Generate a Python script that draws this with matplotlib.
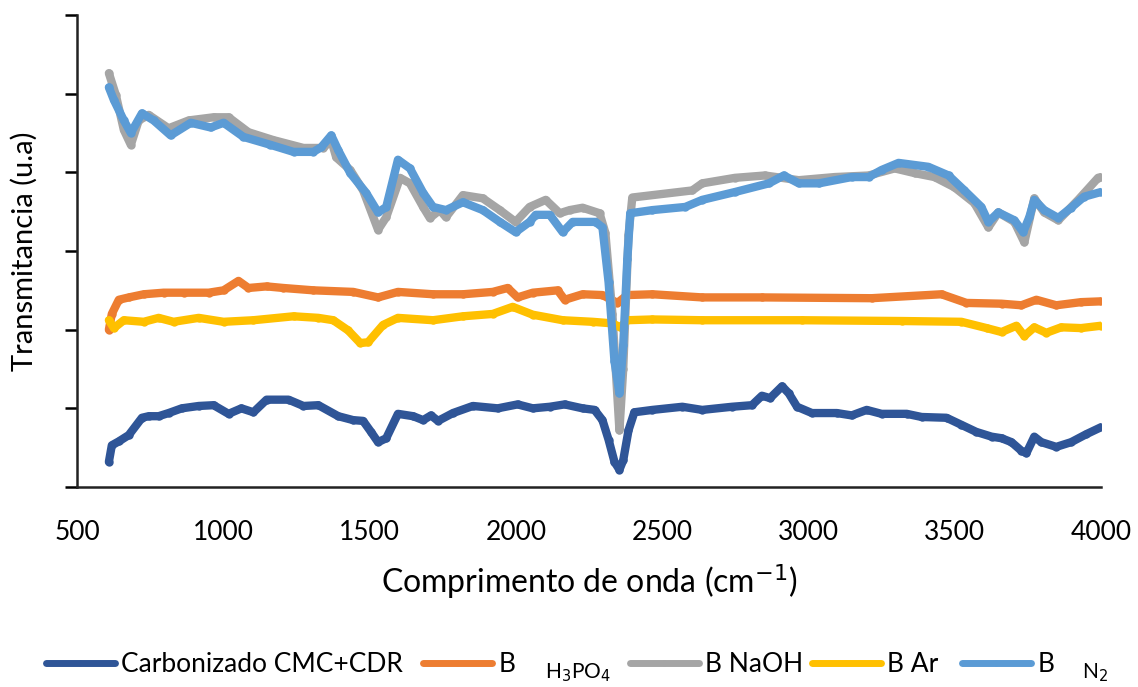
import matplotlib.pyplot as plt

# wavenumber (cm-1) / transmittance (arbitrary units, axis 0..6)
wn_cmc = [609, 619, 643, 677, 722, 745, 779, 813, 858, 916, 967, 1018, 1062, 1103, 1148,
          1223, 1274, 1325, 1393, 1444, 1478, 1505, 1529, 1557, 1597, 1649, 1683, 1710,
          1734, 1785, 1853, 1938, 2006, 2058, 2116, 2167, 2228, 2269, 2296, 2317, 2337,
          2354, 2367, 2385, 2405, 2467, 2569, 2637, 2739, 2807, 2841, 2869, 2910, 2933,
          2961, 3012, 3097, 3148, 3199, 3250, 3336, 3387, 3472, 3523, 3574, 3626, 3660,
          3694, 3728, 3745, 3772, 3796, 3847, 3898, 3949, 4000]
t_cmc = [0.32, 0.53, 0.58, 0.66, 0.88, 0.90, 0.90, 0.94, 1.00, 1.03, 1.04, 0.93, 1.00, 0.95, 1.11,
         1.11, 1.03, 1.04, 0.90, 0.85, 0.84, 0.70, 0.57, 0.62, 0.93, 0.90, 0.85, 0.91,
         0.84, 0.94, 1.03, 1.00, 1.05, 1.00, 1.02, 1.05, 1.00, 0.98, 0.85, 0.60, 0.32,
         0.22, 0.34, 0.72, 0.95, 0.98, 1.02, 0.98, 1.02, 1.04, 1.16, 1.13, 1.28, 1.19,
         1.02, 0.94, 0.94, 0.91, 0.98, 0.93, 0.93, 0.89, 0.88, 0.79, 0.70, 0.64, 0.62,
         0.57, 0.46, 0.43, 0.64, 0.57, 0.51, 0.57, 0.67, 0.76]

wn_h3po4 = [609, 619, 643, 677, 728, 796, 865, 950, 1001, 1052, 1086, 1148, 1205, 1308,
            1444, 1529, 1597, 1717, 1819, 1921, 1972, 2006, 2058, 2143, 2167, 2228, 2296,
            2347, 2381, 2467, 2637, 2841, 3216, 3455, 3540, 3660, 3728, 3779, 3847, 3932, 4000]
t_h3po4 = [2.00, 2.20, 2.38, 2.41, 2.45, 2.47, 2.47, 2.47, 2.50, 2.62, 2.53, 2.55, 2.53, 2.50,
           2.48, 2.41, 2.48, 2.45, 2.45, 2.48, 2.53, 2.41, 2.47, 2.50, 2.38, 2.45, 2.44,
           2.34, 2.44, 2.45, 2.41, 2.41, 2.40, 2.45, 2.34, 2.33, 2.31, 2.38, 2.31, 2.35, 2.36]

wn_naoh = [609, 633, 660, 684, 711, 745, 813, 882, 967, 1018, 1086, 1171, 1274, 1342, 1369,
           1386, 1434, 1478, 1529, 1557, 1604, 1638, 1683, 1706, 1740, 1761, 1819, 1887,
           1945, 1999, 2047, 2102, 2150, 2184, 2228, 2286, 2306, 2330, 2354, 2367, 2385,
           2398, 2603, 2637, 2749, 2851, 2967, 3090, 3206, 3295, 3363, 3431, 3499, 3567,
           3615, 3649, 3704, 3738, 3772, 3806, 3854, 3922, 3990, 4000]
t_naoh = [5.26, 4.98, 4.54, 4.35, 4.66, 4.73, 4.56, 4.66, 4.70, 4.70, 4.51, 4.41, 4.31, 4.31, 4.41,
          4.19, 4.03, 3.77, 3.27, 3.43, 3.93, 3.86, 3.56, 3.42, 3.52, 3.43, 3.71, 3.67,
          3.52, 3.37, 3.56, 3.65, 3.48, 3.52, 3.55, 3.48, 3.23, 2.20, 0.72, 1.50, 3.20,
          3.68, 3.77, 3.86, 3.93, 3.96, 3.90, 3.94, 3.96, 4.05, 3.99, 3.94, 3.81, 3.61,
          3.30, 3.49, 3.37, 3.11, 3.67, 3.49, 3.39, 3.65, 3.93, 3.94]

wn_ar = [609, 626, 660, 728, 779, 830, 916, 1001, 1103, 1240, 1325, 1376, 1427, 1468, 1495,
         1546, 1597, 1717, 1819, 1921, 1989, 2058, 2160, 2262, 2330, 2357, 2381, 2467,
         2637, 2978, 3319, 3523, 3609, 3660, 3711, 3738, 3772, 3813, 3864, 3932, 4000]
t_ar = [2.12, 2.02, 2.12, 2.10, 2.15, 2.10, 2.15, 2.10, 2.12, 2.17, 2.15, 2.12, 1.99, 1.83, 1.84,
        2.06, 2.15, 2.12, 2.17, 2.20, 2.29, 2.19, 2.12, 2.10, 2.08, 2.03, 2.12, 2.13,
        2.12, 2.12, 2.11, 2.10, 2.02, 1.97, 2.05, 1.92, 2.03, 1.96, 2.03, 2.02, 2.05]

wn_n2 = [609, 626, 660, 684, 722, 762, 820, 889, 957, 1001, 1069, 1161, 1240, 1308, 1335,
         1369, 1393, 1434, 1488, 1529, 1557, 1597, 1638, 1683, 1717, 1761, 1819, 1887,
         1945, 1999, 2047, 2068, 2116, 2160, 2194, 2272, 2296, 2317, 2337, 2354, 2367,
         2381, 2391, 2467, 2579, 2637, 2749, 2865, 2916, 2967, 3036, 3148, 3206, 3250,
         3308, 3410, 3479, 3533, 3591, 3615, 3649, 3704, 3734, 3755, 3772, 3806, 3854,
         3898, 3942, 4000]
t_n2 = [5.08, 4.92, 4.66, 4.50, 4.75, 4.66, 4.47, 4.63, 4.57, 4.63, 4.45, 4.35, 4.26, 4.26, 4.32,
        4.47, 4.28, 3.99, 3.74, 3.49, 3.56, 4.16, 4.05, 3.74, 3.56, 3.52, 3.62, 3.52,
        3.37, 3.24, 3.37, 3.46, 3.46, 3.24, 3.37, 3.37, 3.30, 2.60, 1.60, 1.19, 1.80,
        2.90, 3.48, 3.52, 3.56, 3.65, 3.75, 3.86, 3.96, 3.86, 3.86, 3.94, 3.94, 4.03,
        4.12, 4.07, 3.96, 3.77, 3.56, 3.37, 3.49, 3.39, 3.24, 3.43, 3.65, 3.52, 3.42,
        3.55, 3.69, 3.75]

series = [
    (wn_cmc, t_cmc, '#2F5597', 'Carbonizado CMC+CDR'),
    (wn_h3po4, t_h3po4, '#ED7D31', 'B'),
    (wn_naoh, t_naoh, '#A5A5A5', 'B NaOH'),
    (wn_ar, t_ar, '#FFC000', 'B Ar'),
    (wn_n2, t_n2, '#5B9BD5', 'B'),
]
# left edge of each legend entry (pixels in the reference)
legend_x = [46, 423, 630, 812, 962]

plt.rcParams['font.family'] = ['Lato', 'DejaVu Sans']

fig = plt.figure(figsize=(11.38, 6.87), dpi=100)
ax = fig.add_axes([77 / 1138, 1 - 487 / 687, (1101 - 77) / 1138, (487 - 15) / 687])

lines = []
for wn, t, color, label in series:
    ln, = ax.plot(wn, t, color=color, lw=6, marker='o', ms=5, label=label,
                  solid_joinstyle='round', solid_capstyle='round')
    lines.append(ln)

ax.set_xlim(500, 4000)
ax.set_ylim(0, 6)
ax.set_xticks(range(500, 4001, 500))
ax.set_yticks(range(0, 7))
ax.set_yticklabels([])
ax.tick_params(axis='x', length=0, labelsize=19, pad=24)
ax.tick_params(axis='y', direction='out', length=9, width=1.8)
for side in ['top', 'right']:
    ax.spines[side].set_visible(False)
for side in ['left', 'bottom']:
    ax.spines[side].set_linewidth(1.8)
    ax.spines[side].set_color('#222222')

ax.set_xlabel('Comprimento de onda (cm$^{-1}$)', fontsize=23, labelpad=12)
ax.set_ylabel('Transmitancia (u.a)', fontsize=21)
ax.yaxis.set_label_coords(-0.038, 0.50)

# one legend per entry so each sits where the reference has it
for ln, x in zip(lines, legend_x):
    leg = fig.legend(handles=[ln], loc='center left',
                     bbox_to_anchor=(x / 1138, 1 - 665 / 687),
                     frameon=False, fontsize=19, handlelength=2.6, handletextpad=0.25,
                     borderpad=0, borderaxespad=0, numpoints=1, markerscale=0.6)
    leg.get_lines()[0].set_linewidth(5)

fig.text(545 / 1138, 1 - 673 / 687, 'H$_3$PO$_4$', fontsize=15, va='center')
fig.text(1082 / 1138, 1 - 673 / 687, 'N$_2$', fontsize=15, va='center')

fig.savefig('out.png', dpi=100)
